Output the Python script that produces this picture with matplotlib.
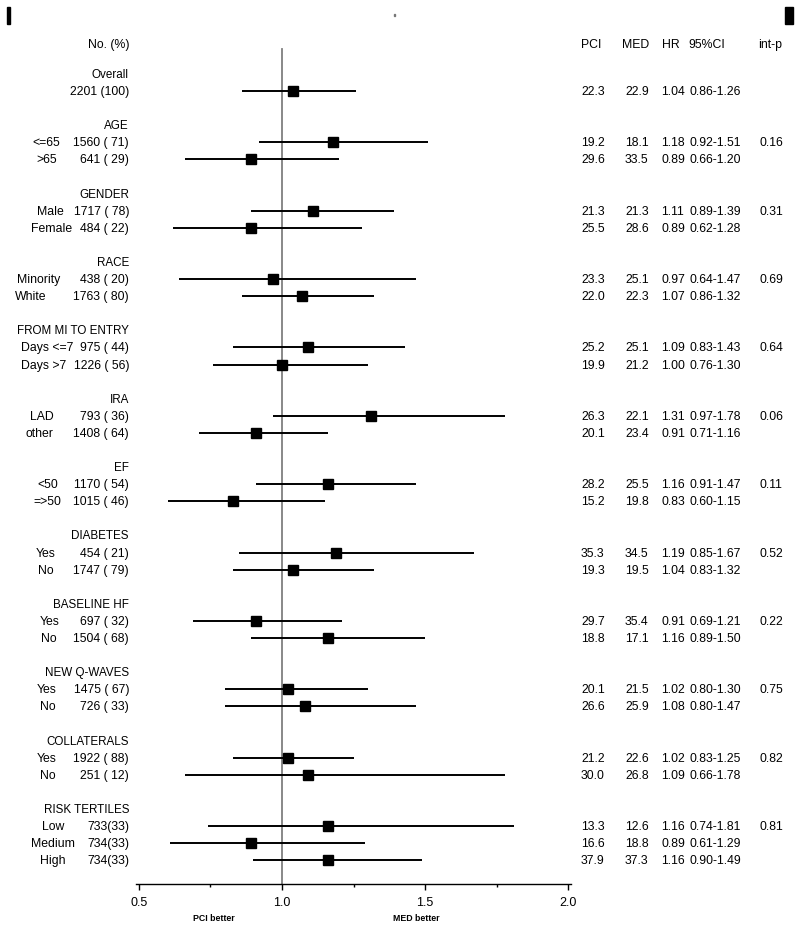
import matplotlib
matplotlib.use("Agg")
import matplotlib.pyplot as plt
from matplotlib.patches import Rectangle

plt.rcParams["font.family"] = ["Liberation Sans", "DejaVu Sans"]

# subgroup data
groups = ["Overall", "AGE", "GENDER", "RACE", "FROM MI TO ENTRY", "IRA", "EF",
          "DIABETES", "BASELINE HF", "NEW Q-WAVES", "COLLATERALS", "RISK TERTILES"]
labels = [[""], ["<=65", ">65"], ["Male", "Female"], ["Minority", "White"],
          ["Days <=7", "Days >7"], ["LAD", "other"], ["<50", "=>50"],
          ["Yes", "No"], ["Yes", "No"], ["Yes", "No"], ["Yes", "No"],
          ["Low", "Medium", "High"]]
counts = [["2201 (100)"], ["1560 ( 71)", "641 ( 29)"], ["1717 ( 78)", "484 ( 22)"],
          ["438 ( 20)", "1763 ( 80)"], ["975 ( 44)", "1226 ( 56)"],
          ["793 ( 36)", "1408 ( 64)"], ["1170 ( 54)", "1015 ( 46)"],
          ["454 ( 21)", "1747 ( 79)"], ["697 ( 32)", "1504 ( 68)"],
          ["1475 ( 67)", "726 ( 33)"], ["1922 ( 88)", "251 ( 12)"],
          ["733(33)", "734(33)", "734(33)"]]
pci = [[22.3], [19.2, 29.6], [21.3, 25.5], [23.3, 22.0], [25.2, 19.9], [26.3, 20.1],
       [28.2, 15.2], [35.3, 19.3], [29.7, 18.8], [20.1, 26.6], [21.2, 30.0],
       [13.3, 16.6, 37.9]]
med = [[22.9], [18.1, 33.5], [21.3, 28.6], [25.1, 22.3], [25.1, 21.2], [22.1, 23.4],
       [25.5, 19.8], [34.5, 19.5], [35.4, 17.1], [21.5, 25.9], [22.6, 26.8],
       [12.6, 18.8, 37.3]]
hr = [[1.04], [1.18, 0.89], [1.11, 0.89], [0.97, 1.07], [1.09, 1.00], [1.31, 0.91],
      [1.16, 0.83], [1.19, 1.04], [0.91, 1.16], [1.02, 1.08], [1.02, 1.09],
      [1.16, 0.89, 1.16]]
lo = [[0.86], [0.92, 0.66], [0.89, 0.62], [0.64, 0.86], [0.83, 0.76], [0.97, 0.71],
      [0.91, 0.60], [0.85, 0.83], [0.69, 0.89], [0.80, 0.80], [0.83, 0.66],
      [0.74, 0.61, 0.90]]
hi = [[1.26], [1.51, 1.20], [1.39, 1.28], [1.47, 1.32], [1.43, 1.30], [1.78, 1.16],
      [1.47, 1.15], [1.67, 1.32], [1.21, 1.50], [1.30, 1.47], [1.25, 1.78],
      [1.81, 1.29, 1.49]]
int_p = ["", "0.16", "0.31", "0.69", "0.64", "0.06", "0.11", "0.52", "0.22",
         "0.75", "0.82", "0.81"]

# left x of the subgroup labels (pixels)
label_x = [[0], [32, 36], [37, 31], [17, 15], [21, 21], [30, 26], [37, 33],
           [36, 38], [40, 41], [37, 40], [37, 40], [42, 31, 40]]

W, H = 800, 929
fs = 8.8
fs_head = 8.4
top_y, step = 75, 17.09
axis_y = 885

fig = plt.figure(figsize=(W / 100, H / 100), dpi=100)
ax = fig.add_axes([0, 0, 1, 1])
ax.set_xlim(0, W)
ax.set_ylim(H, 0)
ax.axis("off")

# forest panel, linear HR axis
x0, x1 = 0.49, 2.012
px0, px1 = 139 - 0.01 * 286, 139 + 1.512 * 286
fax = fig.add_axes([px0 / W, (H - axis_y) / H, (px1 - px0) / W, axis_y / H])
fax.set_xlim(x0, x1)
fax.set_ylim(axis_y, 0)
fax.patch.set_alpha(0)
for s in ["top", "left", "right"]:
    fax.spines[s].set_visible(False)
fax.spines["bottom"].set_linewidth(1.0)
fax.set_yticks([])
fax.set_xticks([0.5, 1.0, 1.5, 2.0])
fax.set_xticklabels(["0.5", "1.0", "1.5", "2.0"], fontsize=9)
fax.set_xticks([0.75, 1.25, 1.75], minor=True)
fax.tick_params(axis="x", which="major", direction="out", length=4, width=1, pad=5)
fax.tick_params(axis="x", which="minor", direction="out", length=2.5, width=1)
fax.axvline(1.0, ymin=0, ymax=(axis_y - 50) / axis_y, color="#7f7f7f", lw=1.3, zorder=1)

# headers
ax.text(129, 45, "No. (%)", ha="right", va="center", fontsize=fs)
for x, t in [(581, "PCI"), (622, "MED"), (662, "HR"), (688, "95%CI"), (758, "int-p")]:
    ax.text(x, 45, t, ha="left", va="center", fontsize=fs)

line = 0
for g, name in enumerate(groups):
    ax.text(129, top_y + line * step, name, ha="right", va="center", fontsize=fs_head)
    line += 1
    for r in range(len(hr[g])):
        y = top_y + line * step
        if labels[g][r]:
            ax.text(label_x[g][r], y, labels[g][r], ha="left", va="center", fontsize=fs)
        ax.text(129, y, counts[g][r], ha="right", va="center", fontsize=fs)
        fax.plot([lo[g][r], hi[g][r]], [y, y], color="black", lw=1.4, zorder=2,
                 solid_capstyle="butt")
        fax.plot(hr[g][r], y, marker="s", ms=7, color="black", zorder=3)
        ax.text(581, y, f"{pci[g][r]:.1f}", ha="left", va="center", fontsize=fs)
        ax.text(625, y, f"{med[g][r]:.1f}", ha="left", va="center", fontsize=fs)
        ax.text(661, y, f"{hr[g][r]:.2f}", ha="left", va="center", fontsize=fs)
        ax.text(689, y, f"{lo[g][r]:.2f}-{hi[g][r]:.2f}", ha="left", va="center",
                fontsize=fs)
        if r == 0 and int_p[g]:
            ax.text(759, y, int_p[g], ha="left", va="center", fontsize=fs)
        line += 1
    line += 1

ax.text(214, 919, "PCI better", ha="center", va="center", fontsize=6.3, weight="bold")
ax.text(416, 919, "MED better", ha="center", va="center", fontsize=6.3, weight="bold")

# scan marks at the top edge
ax.add_patch(Rectangle((7, 8), 3, 17, color="black"))
ax.add_patch(Rectangle((785, 8), 8, 17, color="black"))
ax.add_patch(Rectangle((394, 15), 1.2, 2, color="#777777"))

fig.savefig("out.png", dpi=100)
